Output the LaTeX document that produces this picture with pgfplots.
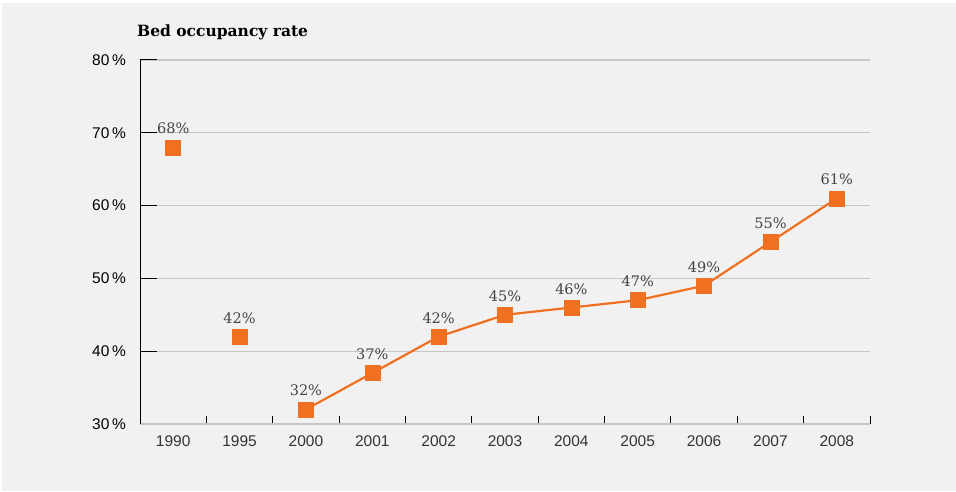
\documentclass[border=0pt]{standalone}
\usepackage{pgfplots}
\pgfplotsset{compat=1.18}
\usepackage{fontspec}
\setmainfont{Liberation Sans}
\newfontfamily\slab{DejaVu Serif}
\definecolor{bg}{HTML}{F1F1F1}
\definecolor{orng}{HTML}{F07021}
\definecolor{gridc}{HTML}{C6C6C6}
\definecolor{txt}{HTML}{333333}
\definecolor{lbl}{HTML}{444444}
\begin{document}
\begin{tikzpicture}[x=1pt,y=1pt]
\fill[white] (0,0) rectangle (956,491);
\fill[bg] (2,0) rectangle (956,488);
\useasboundingbox (0,0) rectangle (956,491);
\node[anchor=base west, inner sep=0pt, font=\slab\bfseries\fontsize{15.5}{18}\selectfont] at (137,454) {Bed occupancy rate};
\begin{axis}[at={(140pt,67pt)}, anchor=south west, scale only axis,
  width=730pt, height=364pt,
  /pgf/number format/assume math mode=true,
  xmin=-0.5, xmax=10.5, ymin=30, ymax=80,
  axis x line*=bottom, axis y line*=left,
  x axis line style={gridc, line width=1.5pt, -},
  y axis line style={black, line width=1pt, -},
  ytick={30,40,...,80},
  yticklabel={\pgfmathprintnumber{\tick}\,\%},
  ymajorgrids,
  major grid style={gridc, line width=1.3pt},
  xtick={0,...,10},
  xticklabels={1990,1995,2000,2001,2002,2003,2004,2005,2006,2007,2008},
  minor xtick={-0.5,0.5,...,10.5},
  major tick length=17pt, minor tick length=8pt, tick align=inside,
  major x tick style={draw=none},
  minor x tick style={black, line width=1pt},
  ytick style={black, line width=1pt},
  yticklabel style={font=\fontsize{15.5}{18}\selectfont, black, xshift=-14pt, inner sep=0pt},
  xticklabel style={font=\fontsize{15.5}{18}\selectfont, txt, yshift=-8pt},
  clip=false,
  point meta=y,
  nodes near coords={\pgfmathprintnumber{\pgfplotspointmeta}\%},
  every node near coord/.append style={font=\slab\fontsize{14.5}{17}\selectfont, text=lbl, anchor=south, inner sep=0pt, yshift=13pt},
]
\addplot[only marks, mark=square*, mark size=7.5pt, orng, mark options={line width=0.5pt}]
  coordinates {(0,68) (1,42)};
\addplot[orng, line width=2.2pt, mark=square*, mark size=7.5pt, mark options={solid, line width=0.5pt}]
  coordinates {(2,32) (3,37) (4,42) (5,45) (6,46) (7,47) (8,49) (9,55) (10,61)};
\end{axis}
\end{tikzpicture}
\end{document}
